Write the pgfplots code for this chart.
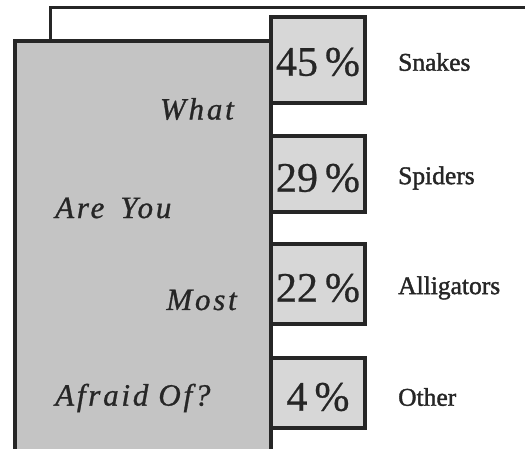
\documentclass[border=0pt]{standalone}
\usepackage{pgfplots}
\pgfplotsset{compat=1.18}
\usepackage{pgfplotstable}
\usepackage{fontspec}
\setmainfont{Liberation Serif}
\definecolor{ink}{RGB}{38,38,38}
\definecolor{bigfill}{RGB}{196,196,196}
\definecolor{boxfill}{RGB}{215,215,215}

\pgfplotstableread{
top bottom mid pct name
17 103 62 45 Snakes
136 212 178 29 Spiders
244 324 288 22 Alligators
358 428 397 4 Other
}\fears

\begin{document}
\begin{tikzpicture}
\begin{axis}[
  width=525pt, height=449pt, scale only axis,
  hide axis,
  xmin=0, xmax=525, ymin=0, ymax=449,
  y dir=reverse,
  clip=true,
]
% frame line at top
\addplot[ink, line width=3pt] coordinates {(50,41) (50,8) (525,8)};
% big question box
\addplot[draw=ink, fill=bigfill, line width=4.5pt] coordinates {(15,449) (15,41) (271,41) (271,449)};
\addplot[draw=none, fill=bigfill] coordinates {(17,449) (17,43) (269,43) (269,449)} --cycle;
% percentage boxes
\addplot[draw=ink, fill=boxfill, line width=4.5pt] coordinates {(271,17) (365,17) (365,103) (271,103)} --cycle;
\addplot[draw=ink, fill=boxfill, line width=4.5pt] coordinates {(271,136) (365,136) (365,212) (271,212)} --cycle;
\addplot[draw=ink, fill=boxfill, line width=4.5pt] coordinates {(271,244) (365,244) (365,324) (271,324)} --cycle;
\addplot[draw=ink, fill=boxfill, line width=4.5pt] coordinates {(271,358) (365,358) (365,428) (271,428)} --cycle;
% percentages
\addplot[draw=none, mark=none, point meta=explicit symbolic,
  nodes near coords={\pgfplotspointmeta\,\%},
  every node near coord/.append style={anchor=center, text=ink, inner sep=0pt, font=\fontsize{42}{42}\selectfont\addfontfeature{FakeBold=0.6}}]
  table[x expr=318, y=mid, meta=pct] {\fears};
% category names
\addplot[draw=none, mark=none, point meta=explicit symbolic,
  nodes near coords={\pgfplotspointmeta},
  every node near coord/.append style={anchor=west, text=ink, inner sep=0pt, font=\fontsize{25.5}{25.5}\selectfont\addfontfeature{FakeBold=1.5}}]
  table[x expr=398, y=mid, meta=name] {\fears};
% question text
\tikzset{qtext/.style={text=ink, inner sep=0pt, font=\fontsize{31}{31}\selectfont\itshape\addfontfeature{LetterSpace=9,FakeBold=0.9}}}
\node[anchor=east, qtext] at (axis cs:234,109) {What};
\node[anchor=west, qtext] at (axis cs:55,208) {Are\hspace{16pt}You};
\node[anchor=east, qtext] at (axis cs:237,300) {Most};
\node[anchor=west, qtext] at (axis cs:55,398) {Afraid\hspace{10pt}Of?};
\end{axis}
\pgfresetboundingbox
\path (current axis.south west) rectangle (current axis.north east);
\end{tikzpicture}
\end{document}
